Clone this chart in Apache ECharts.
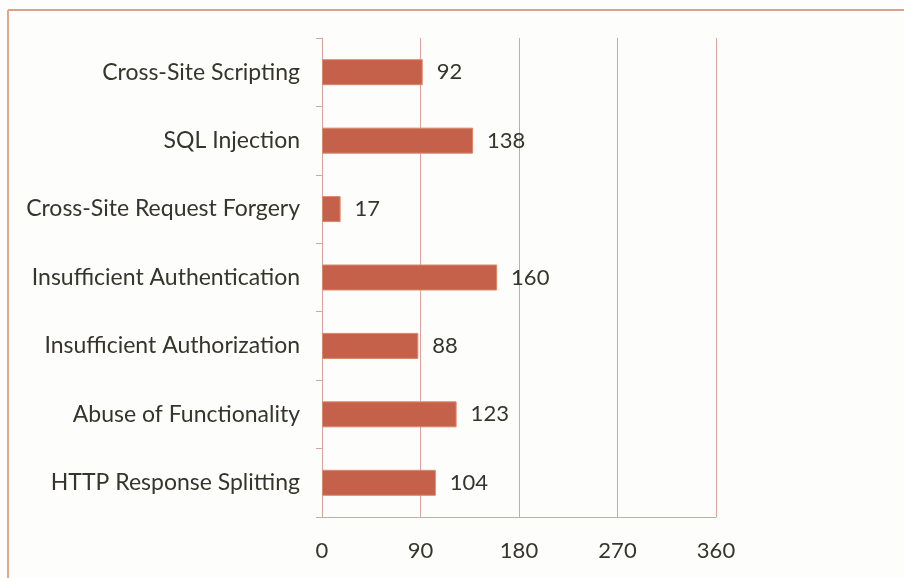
<!DOCTYPE html>
<html>
<head>
<meta charset="utf-8">
<script src="https://cdn.jsdelivr.net/npm/echarts@6/dist/echarts.min.js"></script>
<style>
html,body{margin:0;padding:0;background:#fdfdfb;}
#chart{width:904px;height:578px;}
</style>
</head>
<body>
<div id="chart"></div>
<script>
// categories listed bottom to top (category axis on y starts at the bottom)
var categories = [
    "HTTP Response Splitting",
    "Abuse of Functionality",
    "Insufficient Authorization",
    "Insufficient Authentication",
    "Cross-Site Request Forgery",
    "SQL Injection",
    "Cross-Site Scripting"
];
var counts = [104, 123, 88, 160, 17, 138, 92];
var xTicks = [0, 90, 180, 270, 360];

var textColor = "#36352c";
var lineColor = "#d9a3a0";

var chart = echarts.init(document.getElementById("chart"));

var option = {
    backgroundColor: "#fdfdfb",
    animation: false,
    grid: {left: 322, right: 188, top: 38, bottom: 61},
    xAxis: {
        type: "value",
        min: xTicks[0],
        max: xTicks[xTicks.length - 1],
        interval: 90,
        axisLine: {show: true, lineStyle: {color: lineColor, width: 1}},
        axisTick: {show: false},
        splitLine: {show: true, lineStyle: {color: lineColor, width: 1}},
        axisLabel: {
            color: textColor,
            fontFamily: "Lato",
            fontSize: 22,
            margin: 23
        }
    },
    yAxis: {
        type: "category",
        data: categories,
        axisLine: {show: true, lineStyle: {color: lineColor, width: 1}},
        axisTick: {show: true, length: 6, lineStyle: {color: lineColor}},
        axisLabel: {
            color: textColor,
            fontFamily: "Lato",
            fontSize: 23,
            margin: 22
        }
    },
    series: [{
        type: "bar",
        data: counts,
        barWidth: 26,
        itemStyle: {color: "#c5604b", borderColor: "#d68a6a", borderWidth: 1},
        label: {
            show: true,
            position: "right",
            distance: 14,
            color: textColor,
            fontFamily: "Lato",
            fontSize: 22
        }
    }],
    graphic: [
        {type: "line", shape: {x1: 8, y1: 10, x2: 904, y2: 10},
            style: {stroke: "#d8a28c", lineWidth: 2}},
        {type: "line", shape: {x1: 8, y1: 10, x2: 8, y2: 578},
            style: {stroke: "#e0a88a", lineWidth: 2}}
    ]
};

chart.setOption(option);
</script>
</body>
</html>
